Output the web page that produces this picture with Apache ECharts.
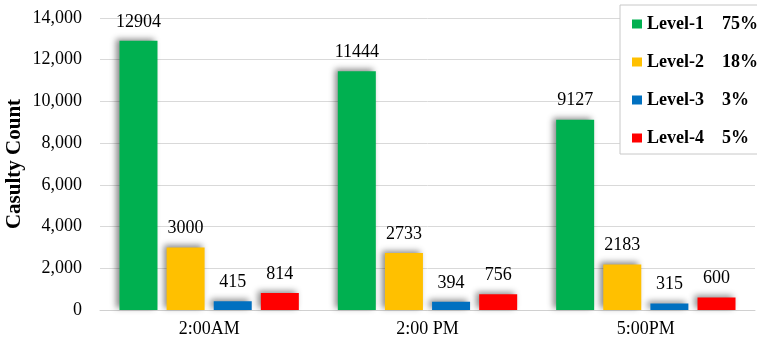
<!DOCTYPE html>
<html>
<head>
<meta charset="utf-8">
<script src="https://cdn.jsdelivr.net/npm/echarts@6/dist/echarts.min.js"></script>
<style>
  html, body { margin: 0; padding: 0; background: #fff; }
  #chart { width: 757px; height: 342px; }
</style>
</head>
<body>
<div id="chart"></div>
<script>
// Casualty counts by time of day, split by severity level
const categories = ['2:00AM', '2:00 PM', '5:00PM'];
const level1 = [12904, 11444, 9127];
const level2 = [3000, 2733, 2183];
const level3 = [415, 394, 315];
const level4 = [814, 756, 600];
const levelNames = ['Level-1', 'Level-2', 'Level-3', 'Level-4'];
const levelShares = ['75%', '18%', '3%', '5%'];
const levelColors = ['#00b050', '#ffc000', '#0070c0', '#ff0000'];
const yTicks = { min: 0, max: 14000, interval: 2000 };

const FONT = '"Liberation Serif", "Times New Roman", serif';
const seriesValues = [level1, level2, level3, level4];

const chart = echarts.init(document.getElementById('chart'), null, { renderer: 'canvas' });

const series = seriesValues.map((vals, i) => ({
  name: levelNames[i],
  type: 'bar',
  data: vals,
  barWidth: 38,
  barGap: '24%',
  itemStyle: {
    color: levelColors[i],
    shadowColor: 'rgba(0,0,0,0.45)',
    shadowBlur: 6,
    shadowOffsetX: -3,
    shadowOffsetY: -2
  },
  label: {
    show: true,
    position: 'top',
    distance: 10,
    color: '#000',
    fontFamily: FONT,
    fontSize: 18
  }
}));

chart.setOption({
  animation: false,
  textStyle: { fontFamily: FONT },
  grid: { left: 100, right: 2, top: 18, bottom: 32, containLabel: false, outerBoundsMode: 'none' },
  legend: {
    orient: 'vertical',
    left: 620,
    top: 5,
    padding: [10, 60, 7, 12],
    itemWidth: 10,
    itemHeight: 9,
    itemGap: 20,
    icon: 'rect',
    backgroundColor: '#fff',
    borderColor: '#c8c8c8',
    borderWidth: 1,
    data: levelNames,
    formatter: name => '{n|' + name + '}{p|' + levelShares[levelNames.indexOf(name)] + '}',
    textStyle: {
      fontFamily: FONT,
      fontSize: 18,
      fontWeight: 'bold',
      color: '#000',
      lineHeight: 18,
      rich: {
        n: { fontFamily: FONT, fontSize: 18, fontWeight: 'bold', width: 75, color: '#000' },
        p: { fontFamily: FONT, fontSize: 18, fontWeight: 'bold', color: '#000' }
      }
    }
  },
  xAxis: {
    type: 'category',
    data: categories,
    axisLine: { lineStyle: { color: '#d0d0d0', width: 1 } },
    axisTick: { show: false },
    axisLabel: { color: '#000', fontFamily: FONT, fontSize: 18, margin: 10 }
  },
  yAxis: {
    type: 'value',
    min: yTicks.min,
    max: yTicks.max,
    interval: yTicks.interval,
    name: 'Casulty Count',
    nameLocation: 'middle',
    nameGap: 75,
    nameMoveOverlap: false,
    nameRotate: 90,
    nameTextStyle: { color: '#000', fontFamily: FONT, fontSize: 21, fontWeight: 'bold' },
    axisLine: { show: false },
    axisTick: { show: false },
    axisLabel: {
      color: '#000', fontFamily: FONT, fontSize: 18, margin: 18,
      formatter: v => v.toLocaleString('en-US')
    },
    splitLine: { lineStyle: { color: '#d9d9d9', width: 1 } }
  },
  series: series
});
</script>
</body>
</html>
